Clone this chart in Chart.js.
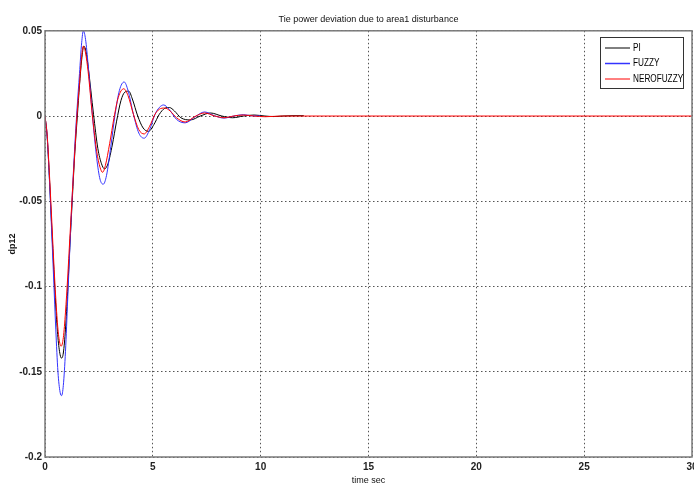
<!DOCTYPE html>
<html>
<head>
<meta charset="utf-8">
<script src="https://cdn.jsdelivr.net/npm/chart.js@4.4.1/dist/chart.umd.min.js"></script>
<style>
  html, body { margin: 0; padding: 0; background: #fff; overflow: hidden; }
  #wrap { width: 694px; height: 483px; position: relative; }
</style>
</head>
<body>
<div id="wrap"><canvas id="tieChart"></canvas></div>
<script>
// time (s) and dp12, one pair of arrays per controller
var tPI = [0, 0.1, 0.2, 0.3, 0.4, 0.5, 0.6, 0.7, 0.77, 0.85, 0.95, 1.05, 1.15, 1.27, 1.38, 1.5, 1.6, 1.7, 1.8, 1.9, 2.0, 2.25, 2.45, 2.62, 2.76, 2.92, 3.12, 3.32, 3.52, 3.7, 3.88, 4.05, 4.3, 4.55, 4.8, 5.05, 5.3, 5.55, 5.77, 6.0, 6.3, 6.74, 7.2, 7.67, 8.2, 8.7, 9.2, 9.7, 10.2, 10.6, 11.0, 11.5, 12.0];
var yPI = [0, -0.012, -0.035, -0.062, -0.088, -0.112, -0.130, -0.140, -0.142, -0.139, -0.125, -0.103, -0.077, -0.048, -0.022, 0.000, 0.018, 0.033, 0.041, 0.038, 0.029, 0.001, -0.019, -0.028, -0.031, -0.028, -0.017, -0.003, 0.009, 0.014, 0.0146, 0.010, 0.000, -0.007, -0.009, -0.005, 0.001, 0.0045, 0.005, 0.003, -0.001, -0.0023, 0.000, 0.0018, 0.000, -0.0010, 0.000, 0.0006, 0.000, -0.0003, 0.000, 0.0002, 0.0002];

var tFuzzy = [0, 0.1, 0.2, 0.3, 0.4, 0.5, 0.6, 0.7, 0.77, 0.85, 0.95, 1.05, 1.15, 1.27, 1.38, 1.48, 1.6, 1.7, 1.78, 1.88, 2.0, 2.2, 2.4, 2.55, 2.7, 2.85, 3.05, 3.25, 3.45, 3.67, 3.85, 4.1, 4.35, 4.6, 4.85, 5.1, 5.3, 5.5, 5.75, 6.1, 6.5, 6.95, 7.4, 7.85, 8.3, 8.75, 9.2, 9.6, 10.0];
var yFuzzy = [0, -0.012, -0.036, -0.065, -0.095, -0.125, -0.150, -0.162, -0.164, -0.158, -0.138, -0.108, -0.078, -0.045, -0.018, 0.003, 0.025, 0.043, 0.050, 0.045, 0.030, 0.000, -0.025, -0.037, -0.040, -0.035, -0.018, 0.001, 0.015, 0.020, 0.015, 0.001, -0.010, -0.013, -0.008, 0.001, 0.005, 0.0065, 0.004, -0.002, -0.004, -0.0005, 0.0024, 0.0002, -0.0012, 0.000, 0.0008, 0.0001, 0.000];

var tNero = [0, 0.1, 0.2, 0.3, 0.4, 0.5, 0.6, 0.7, 0.75, 0.85, 0.95, 1.05, 1.15, 1.27, 1.38, 1.48, 1.6, 1.7, 1.78, 1.88, 2.0, 2.2, 2.4, 2.55, 2.67, 2.8, 3.0, 3.2, 3.4, 3.65, 3.85, 4.1, 4.35, 4.6, 4.85, 5.1, 5.3, 5.55, 5.8, 6.1, 6.5, 6.95, 7.4, 7.85, 8.3, 8.75, 9.2, 9.7, 10.2, 10.6, 11.0, 30.0];
var yNero = [0, -0.011, -0.033, -0.058, -0.084, -0.107, -0.125, -0.134, -0.135, -0.130, -0.115, -0.095, -0.072, -0.045, -0.021, 0.000, 0.019, 0.035, 0.041, 0.037, 0.026, 0.000, -0.021, -0.030, -0.033, -0.029, -0.016, -0.001, 0.011, 0.016, 0.012, 0.001, -0.008, -0.0105, -0.006, 0.001, 0.004, 0.0047, 0.003, -0.001, -0.0035, -0.0003, 0.0018, 0.0001, -0.001, 0.000, 0.0006, 0.000, -0.0004, -0.0002, 0.000, 0.000];

var seriesNames = ["PI", "FUZZY", "NEROFUZZY"];
var xTicks = [0, 5, 10, 15, 20, 25, 30];
var yTicks = [0.05, 0, -0.05, -0.1, -0.15, -0.2];

var sans = "'Liberation Sans', Arial, sans-serif";

function pairs(ts, ys) {
  return ts.map(function (t, i) { return { x: t, y: ys[i] }; });
}

// box round the axes plus a matlab style legend in the top right corner
var framePlugin = {
  id: "frame",
  afterDraw: function (chart) {
    var ctx = chart.ctx;
    var a = chart.chartArea;
    ctx.save();
    ctx.strokeStyle = "#7a7a7a";
    ctx.lineWidth = 1.5;
    ctx.strokeRect(a.left, a.top, a.right - a.left, a.bottom - a.top);

    var lx = 600, ly = 37, lw = 83, lh = 51;
    ctx.fillStyle = "#fff";
    ctx.fillRect(lx, ly, lw, lh);
    ctx.strokeStyle = "#333";
    ctx.lineWidth = 1;
    ctx.strokeRect(lx + 0.5, ly + 0.5, lw, lh);
    ctx.font = "10px " + sans;
    ctx.textBaseline = "middle";
    chart.data.datasets.forEach(function (ds, i) {
      var y = ly + 11 + i * 15.5;
      ctx.strokeStyle = ds.borderColor;
      ctx.lineWidth = i === 1 ? 1.5 : 1;
      ctx.beginPath();
      ctx.moveTo(lx + 5, y);
      ctx.lineTo(lx + 30, y);
      ctx.stroke();
      ctx.fillStyle = "#000";
      ctx.save();
      ctx.translate(lx + 33, y);
      ctx.scale(0.82, 1);
      ctx.fillText(ds.label, 0, 0);
      ctx.restore();
    });
    ctx.restore();
  }
};

var chart = new Chart(document.getElementById("tieChart"), {
  type: "line",
  data: {
    datasets: [
      { label: seriesNames[0], data: pairs(tPI, yPI), borderColor: "#000000", order: 3 },
      { label: seriesNames[1], data: pairs(tFuzzy, yFuzzy), borderColor: "#3333ff", order: 2 },
      { label: seriesNames[2], data: pairs(tNero, yNero), borderColor: "#ff0000", order: 1 }
    ]
  },
  options: {
    responsive: true,
    maintainAspectRatio: false,
    animation: false,
    layout: { autoPadding: false, padding: { left: 0, right: 2, top: 0, bottom: 0 } },
    elements: {
      line: { borderWidth: 1, cubicInterpolationMode: "monotone", fill: false },
      point: { radius: 0 }
    },
    plugins: {
      legend: { display: false },
      tooltip: { enabled: false },
      title: {
        display: true,
        fullSize: false,
        text: "Tie power deviation due to area1 disturbance",
        color: "#111",
        font: { family: sans, size: 9, weight: "normal" },
        padding: { top: 14, bottom: 6 }
      }
    },
    scales: {
      x: {
        type: "linear",
        min: 0,
        max: 30,
        afterFit: function (s) { s.height = 26; s.paddingLeft = 0; s.paddingRight = 0; },
        afterBuildTicks: function (s) { s.ticks = xTicks.map(function (v) { return { value: v }; }); },
        ticks: { color: "#222", padding: 4, font: { family: sans, size: 10, weight: "bold" }, maxRotation: 0 },
        grid: { color: "#555", drawTicks: false },
        border: { display: false, dash: [1.5, 2.5] },
        title: { display: true, text: "time sec", color: "#111", font: { family: sans, size: 9 }, padding: { top: 0, bottom: -3 } }
      },
      y: {
        type: "linear",
        min: -0.2,
        max: 0.05,
        afterFit: function (s) { s.width = 45; },
        afterBuildTicks: function (s) { s.ticks = yTicks.map(function (v) { return { value: v }; }); },
        ticks: {
          color: "#222",
          padding: 3,
          font: { family: sans, size: 10, weight: "bold" },
          callback: function (v) { return String(Number(v.toFixed(2))); }
        },
        grid: { color: "#555", drawTicks: false },
        border: { display: false, dash: [1.5, 2.5] },
        title: { display: true, text: "dp12", color: "#111", font: { family: sans, size: 9, weight: "bold" }, padding: { top: 7, bottom: 0 } }
      }
    }
  },
  plugins: [framePlugin]
});
</script>
</body>
</html>
